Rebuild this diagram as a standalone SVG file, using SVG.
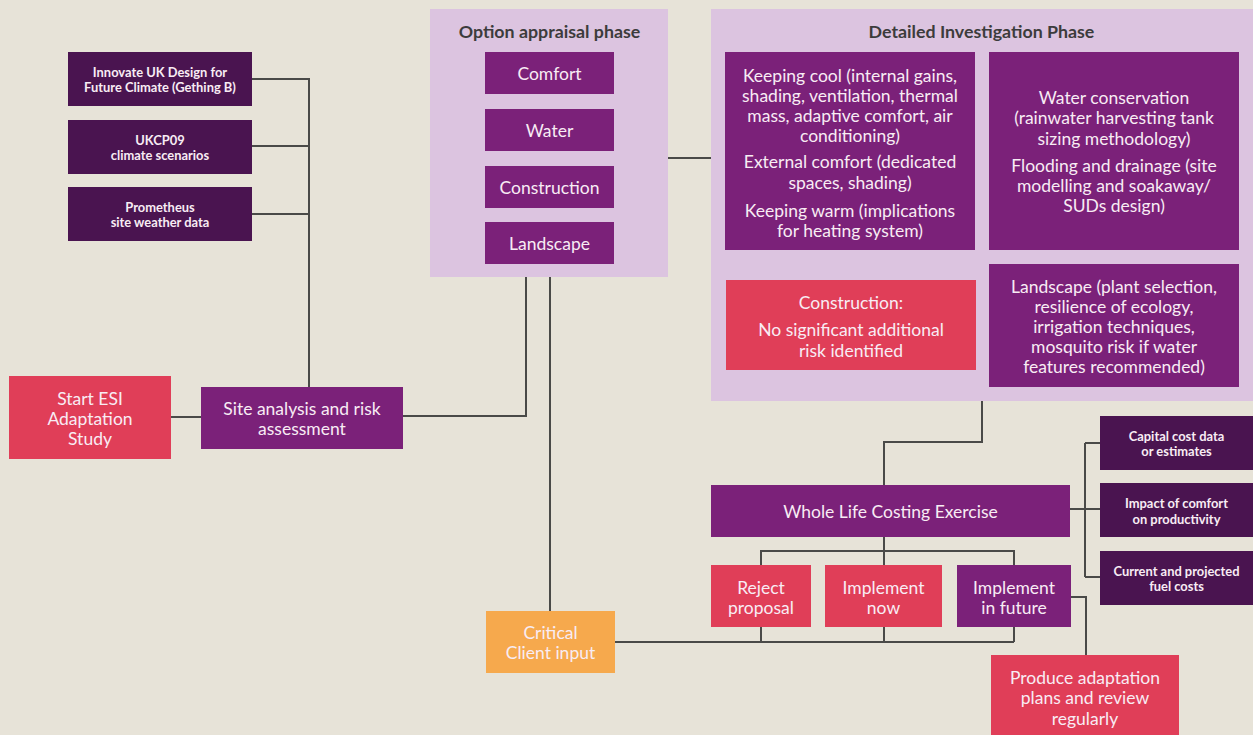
<svg xmlns="http://www.w3.org/2000/svg" width="1253" height="735" viewBox="0 0 1253 735">
<style>
.bg{fill:#e7e3d8}
.panel{fill:#dcc4e0}
.pur{fill:#7b2179}
.dk{fill:#4a1450}
.red{fill:#e03e58}
.org{fill:#f6a94d}
text{font-family:Lato,"Liberation Sans",sans-serif;text-anchor:middle;dominant-baseline:central}
.t{font-size:17.5px;fill:#f8ecf4}
.s{font-size:12.9px;font-weight:bold;fill:#f8ecf4}
.h{font-size:17.8px;font-weight:bold;fill:#3c3c3c}
.ln{fill:none;stroke:#4a4a48;stroke-width:2}
</style>
<rect class="bg" x="0" y="0" width="1253" height="735"/>
<g id="connectors">
<path class="ln" d="M252,79H309M252,146H309M252,214H309M309,78V387"/>
<path class="ln" d="M171,417H201"/>
<path class="ln" d="M403,416H526V277"/>
<path class="ln" d="M550,277V611"/>
<path class="ln" d="M668,158H711"/>
<path class="ln" d="M982,401V442H884V485"/>
<path class="ln" d="M884,537V551M761,565V551H1014V565M884,551V565"/>
<path class="ln" d="M615,642H1014M761,627V642M884,627V642M1014,627V642"/>
<path class="ln" d="M1070,509H1100M1085,443V577M1085,443H1100M1085,577H1100"/>
<path class="ln" d="M1071,597H1086V655"/>
</g>
<g id="src1"><rect class="dk" x="68" y="52" width="184" height="54"/><text class="s" x="160" y="72">Innovate UK Design for</text><text class="s" x="160" y="87">Future Climate (Gething B)</text></g>
<g id="src2"><rect class="dk" x="68" y="120" width="184" height="54"/><text class="s" x="160" y="140">UKCP09</text><text class="s" x="160" y="155">climate scenarios</text></g>
<g id="src3"><rect class="dk" x="68" y="187" width="184" height="54"/><text class="s" x="160" y="207">Prometheus</text><text class="s" x="160" y="222">site weather data</text></g>
<g id="start"><rect class="red" x="9" y="376" width="162" height="83"/><text class="t" x="90" y="398">Start ESI</text><text class="t" x="90" y="418">Adaptation</text><text class="t" x="90" y="438">Study</text></g>
<g id="site"><rect class="pur" x="201" y="387" width="202" height="62"/><text class="t" x="302" y="408">Site analysis and risk</text><text class="t" x="302" y="428">assessment</text></g>
<g id="option">
<rect class="panel" x="430" y="9" width="238" height="268"/>
<text class="h" x="549.5" y="31">Option appraisal phase</text>
<rect class="pur" x="485" y="52" width="129" height="42"/><text class="t" x="549.5" y="73.5">Comfort</text>
<rect class="pur" x="485" y="109" width="129" height="42"/><text class="t" x="549.5" y="130">Water</text>
<rect class="pur" x="485" y="166" width="129" height="42"/><text class="t" x="549.5" y="187.5">Construction</text>
<rect class="pur" x="485" y="222" width="129" height="42"/><text class="t" x="549.5" y="243">Landscape</text>
</g>
<g id="detailed">
<rect class="panel" x="711" y="9" width="542" height="392"/>
<text class="h" x="981.5" y="31">Detailed Investigation Phase</text>
<rect class="pur" x="725" y="52" width="250" height="198"/>
<text class="t" x="850" y="75">Keeping cool (internal gains,</text>
<text class="t" x="850" y="95">shading, ventilation, thermal</text>
<text class="t" x="850" y="115">mass, adaptive comfort, air</text>
<text class="t" x="850" y="135">conditioning)</text>
<text class="t" x="850" y="161.5">External comfort (dedicated</text>
<text class="t" x="850" y="182.5">spaces, shading)</text>
<text class="t" x="850" y="210">Keeping warm (implications</text>
<text class="t" x="850" y="230">for heating system)</text>
<rect class="pur" x="989" y="52" width="250" height="198"/>
<text class="t" x="1114" y="97.5">Water conservation</text>
<text class="t" x="1114" y="117.5">(rainwater harvesting tank</text>
<text class="t" x="1114" y="138">sizing methodology)</text>
<text class="t" x="1114" y="165.5">Flooding and drainage (site</text>
<text class="t" x="1114" y="185.5">modelling and soakaway/</text>
<text class="t" x="1114" y="205.5">SUDs design)</text>
<rect class="red" x="726" y="280" width="250" height="90"/>
<text class="t" x="851" y="302">Construction:</text>
<text class="t" x="851" y="329">No significant additional</text>
<text class="t" x="851" y="350">risk identified</text>
<rect class="pur" x="989" y="264" width="250" height="123"/>
<text class="t" x="1114" y="286.5">Landscape (plant selection,</text>
<text class="t" x="1114" y="306.5">resilience of ecology,</text>
<text class="t" x="1114" y="326.5">irrigation techniques,</text>
<text class="t" x="1114" y="346.5">mosquito risk if water</text>
<text class="t" x="1114" y="366.5">features recommended)</text>
</g>
<g id="wlc"><rect class="pur" x="711" y="485" width="359" height="52"/><text class="t" x="890.5" y="511">Whole Life Costing Exercise</text></g>
<g id="capital"><rect class="dk" x="1100" y="416" width="153" height="54"/><text class="s" x="1176.5" y="436">Capital cost data</text><text class="s" x="1176.5" y="451">or estimates</text></g>
<g id="impact"><rect class="dk" x="1100" y="483" width="153" height="54"/><text class="s" x="1176.5" y="503">Impact of comfort</text><text class="s" x="1176.5" y="518.5">on productivity</text></g>
<g id="fuel"><rect class="dk" x="1100" y="551" width="153" height="54"/><text class="s" x="1176.5" y="571">Current and projected</text><text class="s" x="1176.5" y="586">fuel costs</text></g>
<g id="reject"><rect class="red" x="711" y="565" width="100" height="62"/><text class="t" x="761" y="587">Reject</text><text class="t" x="761" y="607">proposal</text></g>
<g id="now"><rect class="red" x="825" y="565" width="117" height="62"/><text class="t" x="883.5" y="587">Implement</text><text class="t" x="883.5" y="607">now</text></g>
<g id="future"><rect class="pur" x="957" y="565" width="114" height="62"/><text class="t" x="1014" y="587">Implement</text><text class="t" x="1014" y="607">in future</text></g>
<g id="client"><rect class="org" x="486" y="611" width="129" height="62"/><text class="t" x="550.5" y="632">Critical</text><text class="t" x="550.5" y="652">Client input</text></g>
<g id="produce"><rect class="red" x="991" y="655" width="188" height="82"/><text class="t" x="1085" y="677.5">Produce adaptation</text><text class="t" x="1085" y="697.5">plans and review</text><text class="t" x="1085" y="718">regularly</text></g>
</svg>
